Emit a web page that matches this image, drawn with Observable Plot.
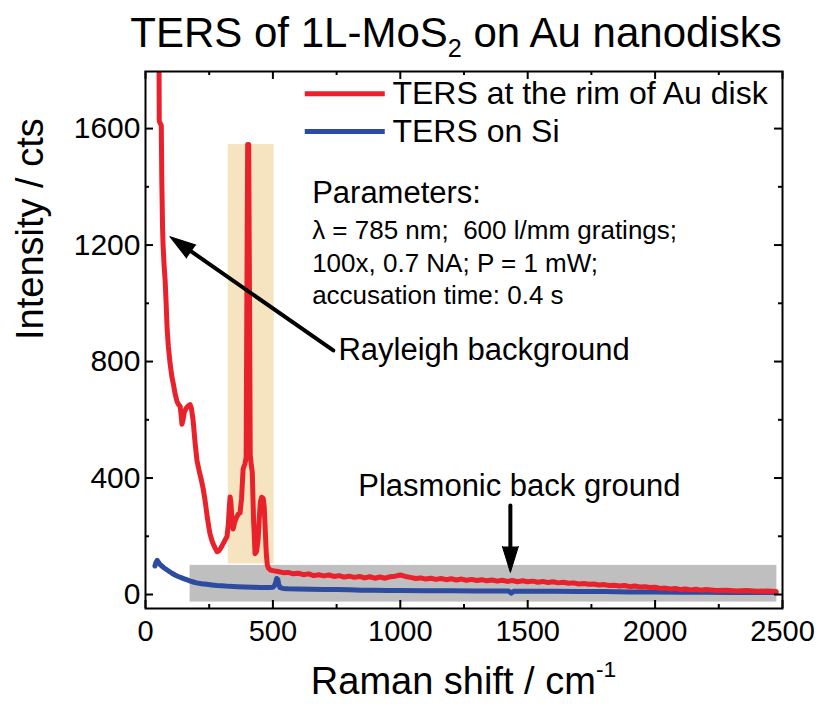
<!DOCTYPE html>
<html>
<head>
<meta charset="utf-8">
<script src="https://cdn.jsdelivr.net/npm/d3@7"></script>
<script src="https://cdn.jsdelivr.net/npm/@observablehq/plot@0.6"></script>
<style>
  html, body { margin: 0; padding: 0; background: #fff; }
  body { position: relative; width: 823px; height: 704px; overflow: hidden; font-family: "Liberation Sans", Arial, sans-serif; color: #000; }
  #title { position: absolute; left: 89px; width: 734px; top: 9px; text-align: center; font-size: 42px; line-height: normal; white-space: nowrap; }
  #title sub { font-size: 0.6em; vertical-align: -0.4em; line-height: 0; }
  #chart { position: absolute; left: 0; top: 60px; }
  #xlabel { position: absolute; left: 145px; width: 637px; top: 660px; text-align: center; font-size: 38px; line-height: normal; white-space: nowrap; }
  #xlabel sup { font-size: 0.6em; vertical-align: 0.75em; line-height: 0; }
</style>
</head>
<body>
<div id="title">TERS of 1L-MoS<sub>2</sub> on Au nanodisks</div>
<div id="chart"></div>
<div id="xlabel">Raman shift / cm<sup>-1</sup></div>
<script>
// ---- Data ----
const redShift = [53,54,62,64,67,69,73,77,81,85,90,96,104,110,116,124,130,136,140,143,147,152,160,168,175,180,187,195,202,208,214,220,226,234,242,248,253,259,265,273,281,288,296,305,313,320,325,329,332,335,339,344,349,356,364,371,377,383,390,395,398,401,405,408,411,415,419,424,430,436,442,447,451,456,462,466,470,474,478,483,490,500,
  520,540,560,580,600,620,640,660,680,700,720,740,760,780,800,820,840,860,880,900,920,940,960,980,1000,1020,1040,1060,1080,1100,1120,1140,1160,1180,1200,1220,1240,1260,1280,1300,1320,1340,1360,1380,1400,1420,1440,1460,1480,1500,1520,1540,1560,1580,1600,1620,1640,1660,1680,1700,1720,1740,1760,1780,1800,1820,1840,1860,1880,1900,1920,1940,1960,1980,2000,2020,2040,2060,2080,2100,2120,2140,2160,2180,2200,2240,2280,2320,2360,2400,2440,2475];
const redIntensity = [1850,1625,1610,1420,1260,1200,1130,1080,1000,910,850,797,745,720,690,662,652,646,615,585,598,625,640,648,652,640,597,518,460,435,412,390,365,322,268,235,209,190,175,160,147,150,160,175,188,200,240,300,335,318,262,225,245,262,276,280,330,430,448,470,1050,1545,1545,1050,480,445,420,260,140,148,190,270,318,334,330,300,220,140,102,90,84,82,
  79,75,76,71,73,68,71,65,68,64,67,62,65,60,63,59,62,57,61,56,60,56,61,63,67,62,59,55,57,53,56,52,55,51,54,50,53,49,52,48,51,47,50,46,49,45,48,44,47,44,46,42,45,41,44,40,42,39,40,36,38,35,36,33,34,31,32,29,31,27,29,26,27,24,25,21,22,19,21,17,19,16,18,15,17,14,15,12,14,11,12,10];

const blueShift = [37,41,46,50,56,64,72,82,92,104,116,128,140,152,164,176,188,200,220,240,260,280,300,330,360,390,420,450,480,500,506,511,515,519,523,528,540,560,600,650,700,750,800,850,900,950,1000,1100,1200,1300,1400,1425,1435,1445,1500,1600,1700,1800,1900,2000,2100,2200,2300,2400,2475];
const blueIntensity = [98,110,117,112,104,98,92,86,80,73,67,62,58,54,50,46,43,40,37,35,33,31,30,28,27,26,25,24,24,25,30,42,55,52,35,24,21,20,19,18,17,17,16,15,15,14,14,13,13,12,12,12,5,11,11,11,10,10,9,9,8,8,7,7,7];

const seriesNames = ["TERS at the rim of Au disk", "TERS on Si"];

const xMajorTicks = [0, 500, 1000, 1500, 2000, 2500];
const xMinorTicks = [250, 750, 1250, 1750, 2250];
const yMajorTicks = [0, 400, 800, 1200, 1600];
const yMinorTicks = [200, 600, 1000, 1400];

// highlighted regions (cm^-1, cts)
const peakBand = {x1: 325, x2: 505, y1: 105, y2: 1545};
const plasmonBand = {x1: 175, x2: 2478, y1: -26, y2: 100};

// annotations (cm^-1, cts)
const paramTitle = ["Parameters:"];
const paramLines = ["λ = 785 nm;\u00a0 600 l/mm gratings;", "100x, 0.7 NA; P = 1 mW;", "accusation time: 0.4 s"];
const paramLineY = [1250, 1137, 1027];
const calloutText = ["Rayleigh background", "Plasmonic back ground"];
const calloutX = [757, 835];
const calloutY = [838, 371];
// arrows: tail -> tip
const arrowX1 = [737, 1432], arrowY1 = [838, 306];
const arrowX2 = [96, 1432],  arrowY2 = [1229, 76];

// legend placement (cm^-1, cts)
const legendLineX = [627, 941];
const legendY = [1720, 1590];
const legendTextX = 969;

// ---- Build tables ----
const red = redShift.map((x, i) => ({x, y: redIntensity[i]}));
const blue = blueShift.map((x, i) => ({x, y: blueIntensity[i]}));
const REDC = "#e8212b", BLUEC = "#2d4b9f";
const params = paramLines.map((t, i) => ({t, y: paramLineY[i]}));
const callouts = calloutText.map((t, i) => ({t, x: calloutX[i], y: calloutY[i]}));
const arrows = arrowX1.map((x1, i) => ({x1, y1: arrowY1[i], x2: arrowX2[i], y2: arrowY2[i]}));
const legend = seriesNames.map((name, i) => ({name, y: legendY[i]}));

const font = '"Liberation Sans", Arial, sans-serif';
const fmt = d3.format("d");

// layout
const W = 823, H = 600, mT = 11, mB = 52, mL = 145, mR = 41;
const frameW = W - mL - mR, frameH = H - mT - mB;
const MAJ = 8, MIN = 4;

const chart = Plot.plot({
  width: W,
  height: H,
  marginTop: mT,
  marginBottom: mB,
  marginLeft: mL,
  marginRight: mR,
  style: {fontFamily: font, color: "black", background: "white", overflow: "visible"},
  x: {domain: [0, 2500]},
  y: {domain: [-48, 1796]},
  marks: [
    Plot.rect([plasmonBand], {x1: "x1", x2: "x2", y1: "y1", y2: "y2", fill: "#bfbfbf"}),
    Plot.rect([peakBand], {x1: "x1", x2: "x2", y1: "y1", y2: "y2", fill: "#f6e4c0"}),
    Plot.line(blue, {x: "x", y: "y", stroke: BLUEC, strokeWidth: 5, clip: true}),
    Plot.line(red, {x: "x", y: "y", stroke: REDC, strokeWidth: 5, clip: true}),
    // arrows
    Plot.arrow(arrows, {x1: "x1", y1: "y1", x2: "x2", y2: "y2", stroke: "black", strokeWidth: 4, headLength: 0, insetEnd: 14}),
    Plot.vector(arrows, {x: "x2", y: "y2", anchor: "end", shape: "spike", length: 26, r: 8, rotate: (d, i) => i === 0 ? -55 : 180, fill: "black", stroke: "black", strokeWidth: 1}),
    // annotations
    Plot.text(paramTitle, {x: 654, y: 1377, text: d => d, textAnchor: "start", fontSize: 31}),
    Plot.text(params, {x: 654, y: "y", text: "t", textAnchor: "start", fontSize: 26}),
    Plot.text(callouts, {x: "x", y: "y", text: "t", textAnchor: "start", fontSize: 31}),
    // legend
    Plot.ruleY(legend, {y: "y", x1: legendLineX[0], x2: legendLineX[1], stroke: (d, i) => i === 0 ? REDC : BLUEC, strokeWidth: 5}),
    Plot.text(legend, {x: legendTextX, y: "y", text: "name", textAnchor: "start", fontSize: 32}),
    // inward ticks on all four sides
    Plot.tickX(xMajorTicks, {x: d => d, insetTop: frameH - MAJ, stroke: "black", strokeWidth: 2}),
    Plot.tickX(xMinorTicks, {x: d => d, insetTop: frameH - MIN, stroke: "black", strokeWidth: 2}),
    Plot.tickX(xMajorTicks, {x: d => d, insetBottom: frameH - MAJ, stroke: "black", strokeWidth: 2}),
    Plot.tickX(xMinorTicks, {x: d => d, insetBottom: frameH - MIN, stroke: "black", strokeWidth: 2}),
    Plot.tickY(yMajorTicks, {y: d => d, insetRight: frameW - MAJ, stroke: "black", strokeWidth: 2}),
    Plot.tickY(yMinorTicks, {y: d => d, insetRight: frameW - MIN, stroke: "black", strokeWidth: 2}),
    Plot.tickY(yMajorTicks, {y: d => d, insetLeft: frameW - MAJ, stroke: "black", strokeWidth: 2}),
    Plot.tickY(yMinorTicks, {y: d => d, insetLeft: frameW - MIN, stroke: "black", strokeWidth: 2}),
    // frame & tick labels
    Plot.frame({stroke: "black", strokeWidth: 2}),
    Plot.axisX({ticks: xMajorTicks, tickSize: 0, tickPadding: 12, tickFormat: fmt, fontSize: 29, label: null}),
    Plot.axisY({ticks: yMajorTicks, tickSize: 0, tickPadding: 5, tickFormat: fmt, fontSize: 30, label: null}),
    Plot.text(["Intensity / cts"], {frameAnchor: "left", text: d => d, rotate: -90, dx: -115, fontSize: 38})
  ]
});
document.getElementById("chart").appendChild(chart);
</script>
</body>
</html>
